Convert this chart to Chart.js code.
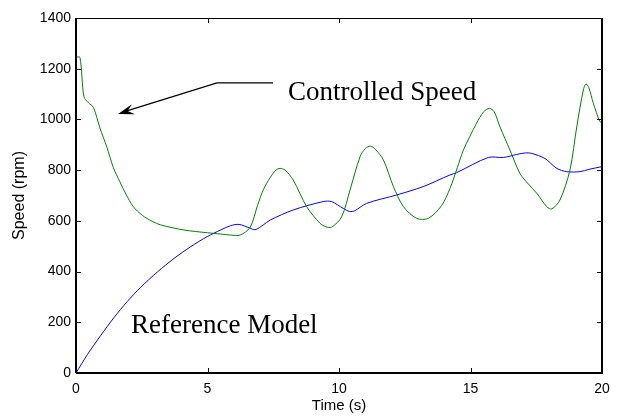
<!DOCTYPE html>
<html>
<head>
<meta charset="utf-8">
<script src="https://cdn.jsdelivr.net/npm/chart.js@4"></script>
<style>
  html, body { margin: 0; padding: 0; background: #fff; }
  #wrap { width: 623px; height: 417px; }
</style>
</head>
<body>
<div id="wrap"><canvas id="speedChart"></canvas></div>
<script>
// controlled speed (green)
const ctrlTime = [0, 0.15, 0.3, 0.47, 0.66, 0.91, 1.17, 1.42, 1.67, 1.9, 2.18, 2.52, 2.9, 3.22, 4.1, 5.0, 5.5, 5.88, 6.24,
  6.62, 6.9, 7.12, 7.38, 7.6, 7.76, 7.95, 8.26, 8.77, 9.28, 9.5, 9.72, 10.1, 10.42, 10.8, 11.0, 11.2, 11.4, 11.69,
  12.07, 12.45, 12.95, 13.4, 13.9, 14.22, 14.5, 14.73, 15.23, 15.5, 15.72, 15.9, 16.12, 16.5, 16.88, 17.2, 17.52,
  17.9, 18.09, 18.4, 18.78, 19.04, 19.29, 19.39, 19.5, 19.67, 19.92, 20];
const ctrlSpeed = [1245, 1245, 1090, 1066, 1048, 966, 892, 810, 754, 705, 656, 622, 598, 584, 564, 553, 548, 544, 544,
  574, 660, 722, 770, 800, 807, 800, 761, 656, 590, 577, 575, 616, 722, 853, 885, 895, 880, 840,
  735, 656, 610, 610, 660, 728, 810, 879, 985, 1030, 1044, 1030, 971, 879, 787, 745, 709,
  656, 647, 682, 800, 971, 1116, 1140, 1125, 1064, 991, 990];

// reference model (blue)
const refTime = [0, 0.43, 0.94, 1.44, 1.95, 2.46, 3.09, 3.73, 4.36, 4.99, 5.5, 5.88, 6.2, 6.6, 6.81, 7.12, 7.38, 8.26,
  9.4, 9.72, 10.16, 10.4, 10.6, 11.05, 12.19, 13.2, 14.22, 14.47, 15.68, 16.25, 16.76, 17.1, 17.33, 17.83, 18.28,
  18.66, 19.16, 19.5, 20];
const refSpeed = [0, 72, 148, 218, 282, 338, 398, 452, 498, 538, 564, 581, 586, 572, 565, 584, 603, 643,
  676, 676, 649, 637, 640, 669, 702, 735, 781, 790, 850, 850, 862, 868, 866, 846, 807,
  794, 794, 803, 814];

const xTicks = [0, 5, 10, 15, 20];
const yTicks = [0, 200, 400, 600, 800, 1000, 1200, 1400];

function toPoints(xs, ys) {
  return xs.map((x, i) => ({ x: x, y: ys[i] }));
}

// box with inward ticks on all four sides, plus the text labels and arrow
const matlabFrame = {
  id: "matlabFrame",
  afterDatasetsDraw(chart) {
    const ctx = chart.ctx;
    const a = chart.chartArea;
    const xs = chart.scales.x;
    const ys = chart.scales.y;
    const tl = 5;

    ctx.save();
    ctx.strokeStyle = "#000";
    ctx.lineWidth = 1;
    ctx.strokeRect(a.left + 0.5, a.top + 0.5, a.right - a.left, a.bottom - a.top);
    ctx.lineWidth = 2;
    ctx.beginPath();
    ctx.moveTo(a.left, a.bottom);
    ctx.lineTo(a.right, a.bottom);
    ctx.moveTo(a.right, a.top);
    ctx.lineTo(a.right, a.bottom);
    ctx.moveTo(a.left, a.top);
    ctx.lineTo(a.left, a.bottom);
    ctx.stroke();

    ctx.lineWidth = 1;
    ctx.beginPath();
    xTicks.forEach(v => {
      const px = Math.round(xs.getPixelForValue(v)) + 0.5;
      ctx.moveTo(px, a.bottom);
      ctx.lineTo(px, a.bottom - tl);
      ctx.moveTo(px, a.top);
      ctx.lineTo(px, a.top + tl);
    });
    yTicks.forEach(v => {
      const py = Math.round(ys.getPixelForValue(v)) + 0.5;
      ctx.moveTo(a.left, py);
      ctx.lineTo(a.left + tl, py);
      ctx.moveTo(a.right, py);
      ctx.lineTo(a.right - tl, py);
    });
    ctx.stroke();

    // annotations
    ctx.fillStyle = "#000";
    ctx.font = "27px 'Liberation Serif', 'Times New Roman', serif";
    ctx.textBaseline = "alphabetic";
    ctx.textAlign = "left";
    ctx.fillText("Controlled Speed", xs.getPixelForValue(8.06), ys.getPixelForValue(1078));
    ctx.fillText("Reference Model", xs.getPixelForValue(2.09), ys.getPixelForValue(158));

    const p0 = [xs.getPixelForValue(7.49), ys.getPixelForValue(1144)];
    const p1 = [xs.getPixelForValue(5.36), ys.getPixelForValue(1144)];
    const tip = [xs.getPixelForValue(1.6), ys.getPixelForValue(1021)];
    ctx.lineWidth = 1.2;
    ctx.beginPath();
    ctx.moveTo(p0[0], p0[1]);
    ctx.lineTo(p1[0], p1[1]);
    ctx.lineTo(tip[0] + 8, tip[1] - 3);
    ctx.stroke();

    const ang = Math.atan2(p1[1] - tip[1], p1[0] - tip[0]);
    const len = 17, spread = 0.32;
    ctx.beginPath();
    ctx.moveTo(tip[0], tip[1]);
    ctx.lineTo(tip[0] + len * Math.cos(ang + spread), tip[1] + len * Math.sin(ang + spread));
    ctx.lineTo(tip[0] + 10 * Math.cos(ang), tip[1] + 10 * Math.sin(ang));
    ctx.lineTo(tip[0] + len * Math.cos(ang - spread), tip[1] + len * Math.sin(ang - spread));
    ctx.closePath();
    ctx.fill();
    ctx.restore();
  }
};

new Chart(document.getElementById("speedChart"), {
  type: "line",
  data: {
    datasets: [
      {
        label: "Controlled Speed",
        data: toPoints(ctrlTime, ctrlSpeed),
        borderColor: "#008000",
        borderWidth: 1,
        pointRadius: 0,
        tension: 0.3
      },
      {
        label: "Reference Model",
        data: toPoints(refTime, refSpeed),
        borderColor: "#0000ff",
        borderWidth: 1,
        pointRadius: 0,
        tension: 0.3
      }
    ]
  },
  options: {
    responsive: true,
    maintainAspectRatio: false,
    animation: false,
    layout: { padding: { left: 0, right: 21, top: 18, bottom: 0 } },
    plugins: {
      legend: { display: false },
      tooltip: { enabled: false }
    },
    scales: {
      x: {
        type: "linear",
        min: 0,
        max: 20,
        afterBuildTicks: s => { s.ticks = xTicks.map(v => ({ value: v })); },
        afterFit: s => { s.height = 44; },
        grid: { display: false, drawTicks: false },
        border: { display: false },
        ticks: {
          color: "#000",
          padding: 8,
          callback: v => String(v),
          font: { family: "'Liberation Sans', Arial, sans-serif", size: 14 }
        },
        title: {
          display: true,
          text: "Time (s)",
          color: "#000",
          padding: { top: 0, bottom: 2 },
          font: { family: "'Liberation Sans', Arial, sans-serif", size: 15 }
        }
      },
      y: {
        min: 0,
        max: 1400,
        afterBuildTicks: s => { s.ticks = yTicks.map(v => ({ value: v })); },
        afterFit: s => { s.width = 76; },
        grid: { display: false, drawTicks: false },
        border: { display: false },
        ticks: {
          color: "#000",
          padding: 5,
          callback: v => String(v),
          font: { family: "'Liberation Sans', Arial, sans-serif", size: 14 }
        },
        title: {
          display: true,
          text: "Speed (rpm)",
          color: "#000",
          padding: { top: 10, bottom: 0 },
          font: { family: "'Liberation Sans', Arial, sans-serif", size: 16 }
        }
      }
    }
  },
  plugins: [matlabFrame]
});
</script>
</body>
</html>
